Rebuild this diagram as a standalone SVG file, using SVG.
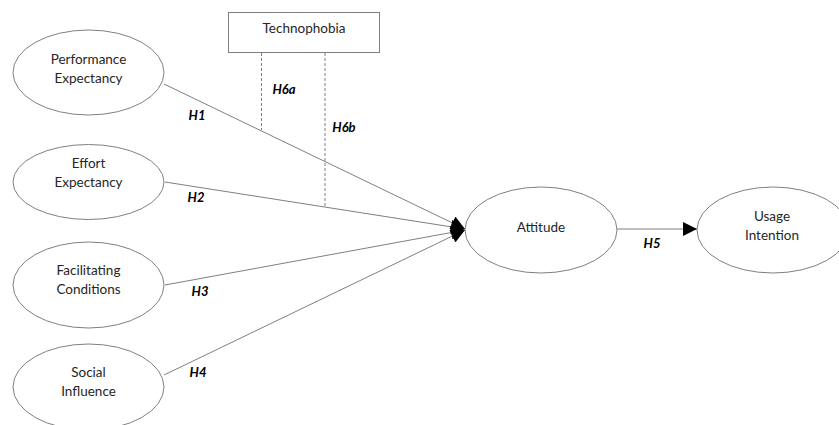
<svg xmlns="http://www.w3.org/2000/svg" width="839" height="425" viewBox="0 0 839 425">
<defs>
<marker id="arr" viewBox="0 0 10 10" refX="10" refY="5" markerWidth="15" markerHeight="14" markerUnits="userSpaceOnUse" orient="auto">
<path d="M0,0 L10,5 L0,10 Z" fill="#000"/>
</marker>
</defs>
<style>
.node{fill:#fff;stroke:#7f7f7f;stroke-width:1}
.t{font-family:Lato,"Open Sans",sans-serif;font-size:13.5px;fill:#262626;text-anchor:middle}
.h{font-family:Lato,"Open Sans",sans-serif;font-size:13px;font-weight:bold;font-style:italic;fill:#000;text-anchor:middle}
.c{stroke:#7f7f7f;stroke-width:1;fill:none}
.d{stroke:#7f7f7f;stroke-width:1;stroke-dasharray:3,2;fill:none}
</style>
<rect width="839" height="425" fill="#fff"/>
<g id="connectors">
<line class="d" x1="261.5" y1="53" x2="261.5" y2="130"/>
<line class="d" x1="325" y1="53" x2="325" y2="206"/>
<line class="c" x1="164" y1="84" x2="465" y2="229" marker-end="url(#arr)"/>
<line class="c" x1="165" y1="182" x2="465" y2="229" marker-end="url(#arr)"/>
<line class="c" x1="165" y1="285" x2="465" y2="230" marker-end="url(#arr)"/>
<line class="c" x1="164" y1="375" x2="465" y2="230" marker-end="url(#arr)"/>
<line class="c" x1="617" y1="229" x2="697" y2="229" marker-end="url(#arr)"/>
<text class="h" x="197" y="120">H1</text>
<text class="h" x="196" y="202">H2</text>
<text class="h" x="200" y="296">H3</text>
<text class="h" x="198" y="377">H4</text>
<text class="h" x="652" y="248">H5</text>
<text class="h" x="284" y="94">H6a</text>
<text class="h" x="344" y="132">H6b</text>
</g>
<g id="technophobia">
<rect class="node" x="228.5" y="12.5" width="151" height="40"/>
<text class="t" x="304" y="33">Technophobia</text>
</g>
<g id="performance">
<ellipse class="node" cx="88.5" cy="72.5" rx="75.5" ry="42.5"/>
<text class="t" x="88.5" y="64">Performance</text>
<text class="t" x="88.5" y="83">Expectancy</text>
</g>
<g id="effort">
<ellipse class="node" cx="88.5" cy="182" rx="75.5" ry="37.5"/>
<text class="t" x="88.5" y="168">Effort</text>
<text class="t" x="88.5" y="187">Expectancy</text>
</g>
<g id="facilitating">
<ellipse class="node" cx="88.5" cy="285" rx="75.5" ry="43"/>
<text class="t" x="88.5" y="275">Facilitating</text>
<text class="t" x="88.5" y="294">Conditions</text>
</g>
<g id="social">
<ellipse class="node" cx="88.5" cy="387" rx="75.5" ry="43"/>
<text class="t" x="88.5" y="377">Social</text>
<text class="t" x="88.5" y="396">Influence</text>
</g>
<g id="attitude">
<ellipse class="node" cx="541" cy="230" rx="76" ry="43"/>
<text class="t" x="541" y="232">Attitude</text>
</g>
<g id="usage">
<ellipse class="node" cx="773" cy="230" rx="76" ry="43"/>
<text class="t" x="772" y="221">Usage</text>
<text class="t" x="772" y="240">Intention</text>
</g>
</svg>
